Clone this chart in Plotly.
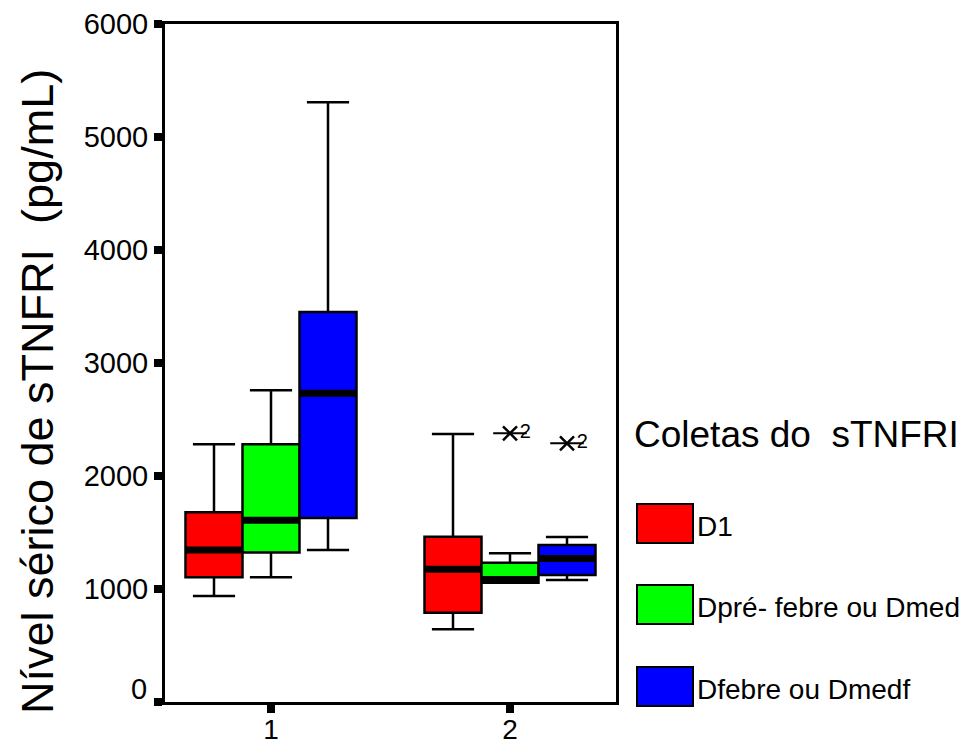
import plotly.graph_objects as go

# ---------------- data ----------------
groups = [1, 2]
series_names = ["D1", "Dpré- febre ou Dmed", "Dfebre ou Dmedf"]
series_colors = ["#FF0000", "#00FF00", "#0000FF"]

# per series: values for group 1, group 2
d1_lower = [938, 643]
d1_q1 = [1103, 790]
d1_median = [1345, 1174]
d1_q3 = [1679, 1463]
d1_upper = [2280, 2372]

dpre_lower = [1103, 1055]
dpre_q1 = [1322, 1055]
dpre_median = [1608, 1085]
dpre_q3 = [2280, 1233]
dpre_upper = [2758, 1316]

dfeb_lower = [1345, 1080]
dfeb_q1 = [1628, 1124]
dfeb_median = [2732, 1271]
dfeb_q3 = [3451, 1389]
dfeb_upper = [5307, 1460]

# extreme values (group, series index, value, case label)
extreme_group = [2, 2]
extreme_series = [1, 2]
extreme_value = [2378, 2289]
extreme_label = ["2", "2"]

y_ticks = [0, 1000, 2000, 3000, 4000, 5000, 6000]
y_tick_labels = ["", "1000", "2000", "3000", "4000", "5000", "6000"]
x_ticks = [1, 2]
x_tick_labels = ["1", "2"]

legend_title = "Coletas do\u00a0\u00a0sTNFRI"
y_title = "Nível sérico de sTNFRI\u00a0\u00a0(pg/mL)"

# ---------------- layout constants ----------------
OFF = 8                      # page body margin
W, H = 979 - OFF, 744 - OFF
PL, PR, PT, PB = 165, 616, 24, 702   # plot frame in page pixels
BOX_W = 0.2385
OFFSETS = [-BOX_W, 0.0, BOX_W]
FONT = "Liberation Sans, Arial, sans-serif"


def pxx(p):
    return (p - PL) / (PR - PL)


def pxy(p):
    return (PB - p) / (PB - PT)


stats = [
    (d1_lower, d1_q1, d1_median, d1_q3, d1_upper),
    (dpre_lower, dpre_q1, dpre_median, dpre_q3, dpre_upper),
    (dfeb_lower, dfeb_q1, dfeb_median, dfeb_q3, dfeb_upper),
]

fig = go.Figure()

for i, (lo, q1, med, q3, up) in enumerate(stats):
    xs = [g + OFFSETS[i] for g in groups]
    fig.add_trace(go.Box(
        x=xs, lowerfence=lo, q1=q1, median=med, q3=q3, upperfence=up,
        width=BOX_W, whiskerwidth=0.74,
        fillcolor=series_colors[i],
        line=dict(color="black", width=2.5),
        boxpoints=False, showlegend=False, name=series_names[i],
    ))

# thick median bars
for i, (lo, q1, med, q3, up) in enumerate(stats):
    mx, my = [], []
    for g, m in zip(groups, med):
        c = g + OFFSETS[i]
        mx += [c - BOX_W / 2, c + BOX_W / 2, None]
        my += [m, m, None]
    fig.add_trace(go.Scatter(x=mx, y=my, mode="lines",
                             line=dict(color="black", width=7),
                             showlegend=False, hoverinfo="skip"))

# extreme values
ex_x = [g + OFFSETS[s] for g, s in zip(extreme_group, extreme_series)]
fig.add_trace(go.Scatter(x=ex_x, y=extreme_value, mode="markers",
                         marker=dict(symbol="line-ew-open", size=24,
                                     color="black",
                                     line=dict(color="black", width=2)),
                         showlegend=False, hoverinfo="skip"))
fig.add_trace(go.Scatter(x=ex_x, y=extreme_value, mode="markers+text",
                         text=extreme_label, textposition="middle right",
                         textfont=dict(family=FONT, size=20, color="black"),
                         marker=dict(symbol="x-thin-open", size=14,
                                     color="black",
                                     line=dict(color="black", width=2.5)),
                         showlegend=False, hoverinfo="skip"))

shapes = []
annotations = []

# custom legend
annotations.append(dict(text=legend_title, x=pxx(632), y=pxy(435),
                        xref="paper", yref="paper", xanchor="left",
                        yanchor="middle", showarrow=False,
                        font=dict(family=FONT, size=37, color="black")))
sw_tops = [504, 585, 667]
for i, name in enumerate(series_names):
    t = sw_tops[i]
    shapes.append(dict(type="rect", xref="paper", yref="paper",
                       x0=pxx(637), x1=pxx(693), y0=pxy(t + 39), y1=pxy(t),
                       fillcolor=series_colors[i],
                       line=dict(color="black", width=2)))
    annotations.append(dict(text=name, x=pxx(695), y=pxy(t + 22),
                            xref="paper", yref="paper", xanchor="left",
                            yanchor="middle", showarrow=False,
                            font=dict(family=FONT, size=28, color="black")))

# y-axis title
annotations.append(dict(text=y_title, x=pxx(37), y=pxy(392),
                        xref="paper", yref="paper", xanchor="center",
                        yanchor="middle", textangle=-90, showarrow=False,
                        font=dict(family=FONT, size=45, color="black")))

# the "0" label sits slightly above its tick in the reference
annotations.append(dict(text="0", x=pxx(149), y=pxy(689),
                        xref="paper", yref="paper", xanchor="right",
                        yanchor="middle", showarrow=False,
                        font=dict(family=FONT, size=29, color="black")))

x_lo = 1 - (271 - PL) / 239
x_hi = 2 + (PR - 510) / 239

fig.update_layout(
    width=W, height=H,
    margin=dict(l=PL - OFF, r=W - (PR - OFF), t=PT - OFF, b=H - (PB - OFF),
                pad=0, autoexpand=False),
    paper_bgcolor="white", plot_bgcolor="white",
    font=dict(family=FONT, color="black"),
    shapes=shapes, annotations=annotations,
    xaxis=dict(range=[x_lo, x_hi], tickvals=x_ticks, ticktext=x_tick_labels,
               showgrid=False, zeroline=False, automargin=False,
               showline=True, mirror=True, linecolor="black", linewidth=3,
               ticks="outside", ticklen=8, tickwidth=8, tickcolor="black",
               ticklabelstandoff=-8,
               tickfont=dict(family=FONT, size=28, color="black")),
    yaxis=dict(range=[0, 6000], tickvals=y_ticks, ticktext=y_tick_labels,
               showgrid=False, zeroline=False, automargin=False,
               showline=True, mirror=True, linecolor="black", linewidth=3,
               ticks="outside", ticklen=8, tickwidth=8, tickcolor="black",
               tickfont=dict(family=FONT, size=29, color="black")),
)

fig.write_html("out.html")
